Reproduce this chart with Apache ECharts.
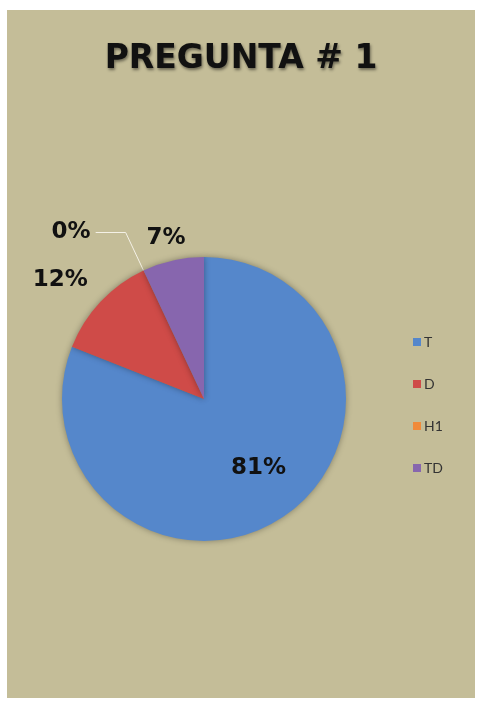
<!DOCTYPE html>
<html>
<head>
<meta charset="utf-8">
<script src="https://cdn.jsdelivr.net/npm/echarts@6/dist/echarts.min.js"></script>
<style>
html,body{margin:0;padding:0;background:#fff;width:477px;height:708px;overflow:hidden;}
#chart{position:absolute;left:7px;top:10px;width:468px;height:688px;}
</style>
</head>
<body>
<div id="chart"></div>
<script>
const titleText = 'PREGUNTA # 1';
const categories = ['T', 'D', 'H1', 'TD'];
const percentValues = [81, 12, 0, 7];
const sliceColors = ['#5587CB', '#CF4B48', '#F08A3A', '#8766AE'];

const chart = echarts.init(document.getElementById('chart'));
const data = categories.map((name, i) => {
  const d = { name: name, value: percentValues[i], itemStyle: { color: sliceColors[i] } };
  if (i === 0) {
    d.label = { position: 'inside' };
  }
  if (i === 2) {
    d.labelLine = { show: true, length: 42, length2: 30, lineStyle: { color: '#f4f1e6', width: 1 } };
  }
  return d;
});

chart.setOption({
  backgroundColor: '#C4BD98',
  animation: false,
  title: {
    text: titleText,
    left: 'center',
    top: 28,
    textStyle: {
      fontFamily: 'DejaVu Sans',
      fontWeight: 'bold',
      fontSize: 33,
      color: '#111',
      textShadowColor: 'rgba(0,0,0,0.45)',
      textShadowBlur: 3,
      textShadowOffsetX: 1,
      textShadowOffsetY: 2
    }
  },
  legend: {
    orient: 'vertical',
    left: 401,
    top: 320,
    itemWidth: 8,
    itemHeight: 8,
    itemGap: 28,
    icon: 'rect',
    data: categories,
    textStyle: { fontFamily: 'Lato', fontSize: 14, color: '#333', padding: [0,0,0,-2] }
  },
  series: [{
    type: 'pie',
    center: [197, 389],
    radius: 142,
    startAngle: 90,
    clockwise: true,
    avoidLabelOverlap: false,
    stillShowZeroSum: true,
    minShowLabelAngle: 0,
    data: data,
    itemStyle: {
      shadowBlur: 6,
      shadowColor: 'rgba(0,0,0,0.35)',
      borderWidth: 0
    },
    label: {
      show: true,
      position: 'outside',
      formatter: '{c}%',
      fontFamily: 'DejaVu Sans',
      fontWeight: 'bold',
      fontSize: 23,
      color: '#111'
    },
    labelLine: { show: false, length: 20, length2: 20 },
    labelLayout: function (p) {
      const offs = [[13, 8], [27, -8], [0, 0], [42, -3]];
      const o = offs[p.dataIndex];
      return { dx: o[0], dy: o[1] };
    },
    emphasis: { disabled: true }
  }]
});
</script>
</body>
</html>
